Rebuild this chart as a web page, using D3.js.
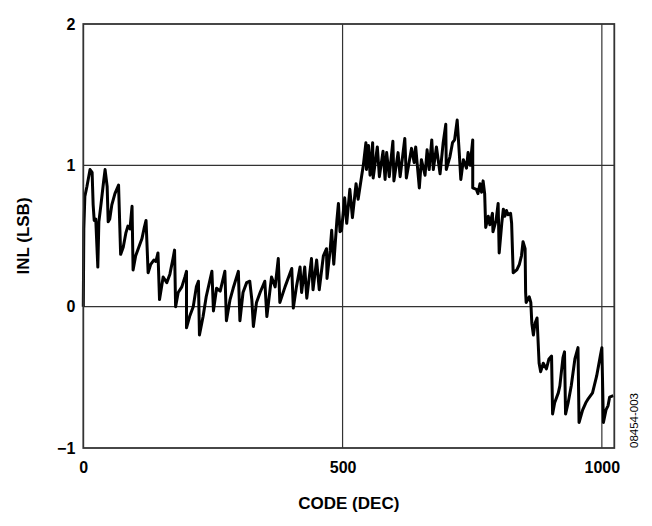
<!DOCTYPE html>
<html>
<head>
<meta charset="utf-8">
<script src="https://cdn.jsdelivr.net/npm/d3@7"></script>
<style>
  body { margin: 0; background: #fff; }
  svg text { font-family: "Liberation Sans", Arial, sans-serif; }
</style>
</head>
<body>
<svg id="canvas" width="652" height="526"></svg>
<script>
// tick labels
const xTicks = [0, 500, 1000]
const yTicks = [-1, 0, 1, 2]
const xGrid = [500, 1000]
const yGrid = [0, 1]

// INL curve (code, LSB)
const codes = [0,1,3,7,13,17,19,21,24,28,30,34,39,42,46,48,51,55,61,68,72,77,82,86,90,94,96,101,107,113,117,121,125,130,136,140,144,147,154,161,167,173,176,178,183,190,196,199,199,205,212,218,222,224,231,237,248,251,257,264,273,276,283,289,299,302,308,315,321,325,328,334,341,350,354,363,370,376,379,389,402,405,411,418,421,427,431,440,443,450,455,463,469,470,476,479,483,489,492,495,498,504,508,514,519,526,530,537,540,545,546,550,553,558,559,567,571,578,582,585,590,597,599,607,611,617,620,623,633,638,641,648,652,659,663,667,672,675,681,688,694,699,700,707,712,716,721,725,728,733,739,742,746,751,751,758,761,765,768,771,774,776,781,784,789,790,796,800,802,807,810,813,816,819,824,826,829,836,841,845,848,852,853,854,860,863,865,868,871,875,879,882,887,893,898,903,905,909,916,919,925,928,930,935,941,948,954,956,963,969,974,982,990,997,1000,1003,1008,1012,1015,1022]
const inl = [0,0.55,0.78,0.85,0.97,0.95,0.72,0.61,0.62,0.28,0.6,0.72,0.88,0.97,0.85,0.60,0.62,0.72,0.80,0.86,0.37,0.42,0.52,0.57,0.55,0.71,0.26,0.36,0.42,0.48,0.55,0.61,0.24,0.30,0.33,0.32,0.38,0.05,0.21,0.17,0.23,0.34,0.40,0.0,0.10,0.14,0.21,0.25,-0.15,-0.07,0.0,0.14,0.18,-0.20,-0.07,0.07,0.25,-0.03,0.13,0.11,0.25,-0.10,0.05,0.13,0.25,-0.10,0.10,0.17,0.18,0.05,-0.14,0.03,0.10,0.18,-0.07,0.21,0.14,0.34,0.03,0.14,0.27,-0.01,0.14,0.28,0.10,0.28,0.06,0.34,0.12,0.33,0.12,0.36,0.41,0.20,0.40,0.54,0.30,0.61,0.73,0.53,0.54,0.77,0.59,0.83,0.63,0.87,0.76,0.93,1.0,1.16,0.97,1.14,0.93,1.16,0.91,1.13,0.92,1.10,0.90,1.09,0.92,1.17,0.89,1.09,0.92,1.10,1.19,0.91,1.12,1.02,1.13,0.84,1.04,0.93,1.11,0.97,1.18,0.97,1.13,0.94,1.16,1.29,0.97,1.06,1.16,1.18,1.32,1.09,0.90,1.04,0.98,1.09,1.00,1.18,0.84,0.83,0.80,0.87,0.81,0.89,0.80,0.56,0.64,0.58,0.66,0.53,0.61,0.73,0.38,0.59,0.69,0.64,0.68,0.65,0.66,0.59,0.24,0.26,0.30,0.36,0.46,0.41,0.10,0.03,0.07,0.03,-0.12,-0.20,-0.12,-0.08,-0.40,-0.46,-0.40,-0.44,-0.37,-0.35,-0.76,-0.68,-0.61,-0.56,-0.36,-0.32,-0.76,-0.68,-0.56,-0.37,-0.29,-0.82,-0.73,-0.68,-0.65,-0.61,-0.49,-0.35,-0.29,-0.82,-0.73,-0.70,-0.64,-0.63]

const plotL = 83.3, plotR = 614.3, plotT = 24, plotB = 448

const x = d3.scaleLinear().domain([0, 1024]).range([plotL, plotR])
const y = d3.scaleLinear().domain([-1, 2]).range([plotB, plotT])

const svg = d3.select('#canvas')

// grid
svg.selectAll('line.gx').data(xGrid).enter().append('line')
  .attr('x1', d => x(d)).attr('x2', d => x(d))
  .attr('y1', plotT).attr('y2', plotB)
  .attr('stroke', '#333').attr('stroke-width', 1.2)
svg.selectAll('line.gy').data(yGrid).enter().append('line')
  .attr('x1', plotL).attr('x2', plotR)
  .attr('y1', d => y(d)).attr('y2', d => y(d))
  .attr('stroke', '#333').attr('stroke-width', 1.2)

// curve
const pts = codes.map((c, i) => [c, inl[i]])
svg.append('path')
  .datum(pts)
  .attr('fill', 'none')
  .attr('stroke', '#000')
  .attr('stroke-width', 3)
  .attr('stroke-linejoin', 'round')
  .attr('d', d3.line().x(d => x(d[0])).y(d => y(d[1])))

// frame
svg.append('rect')
  .attr('x', plotL).attr('y', plotT)
  .attr('width', plotR - plotL).attr('height', plotB - plotT)
  .attr('fill', 'none').attr('stroke', '#333').attr('stroke-width', 1.8)

// axes (labels only)
const fmt = d3.format('d')
const xAxis = svg.append('g')
  .attr('transform', `translate(0,${plotB})`)
  .call(d3.axisBottom(x).tickValues(xTicks).tickFormat(fmt).tickSize(0).tickPadding(13.5))
const yAxis = svg.append('g')
  .attr('transform', `translate(${plotL},0)`)
  .call(d3.axisLeft(y).tickValues(yTicks).tickFormat(fmt).tickSize(0).tickPadding(8))
;[xAxis, yAxis].forEach(g => {
  g.select('.domain').remove()
  g.selectAll('text')
    .attr('font-family', '"Liberation Sans", Arial, sans-serif')
    .attr('font-size', 16).attr('font-weight', 'bold').attr('fill', '#000')
})

// titles
svg.append('text')
  .attr('x', (plotL + plotR) / 2).attr('y', 509)
  .attr('text-anchor', 'middle')
  .attr('font-size', 17).attr('font-weight', 'bold')
  .text('CODE (DEC)')
svg.append('text')
  .attr('transform', `translate(29,${(plotT + plotB) / 2}) rotate(-90)`)
  .attr('text-anchor', 'middle')
  .attr('font-size', 17).attr('font-weight', 'bold')
  .text('INL (LSB)')
svg.append('text')
  .attr('transform', 'translate(638,448) rotate(-90)')
  .attr('text-anchor', 'start')
  .attr('font-size', 11.5)
  .text('08454-003')
</script>
</body>
</html>
